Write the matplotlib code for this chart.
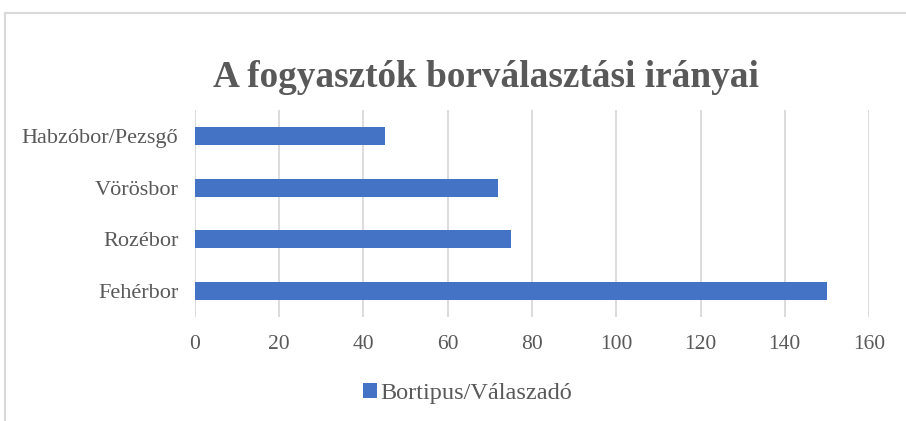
import matplotlib.pyplot as plt
from matplotlib.lines import Line2D

categories = ["Fehérbor", "Rozébor", "Vörösbor", "Habzóbor/Pezsgő"]
values = [150, 75, 72, 45]
xticks = [0, 20, 40, 60, 80, 100, 120, 140, 160]
series_name = "Bortipus/Válaszadó"
title = "A fogyasztók borválasztási irányai"

plt.rcParams["font.family"] = ["Liberation Serif", "DejaVu Serif"]
TXT = "#595959"
GRID = "#d9d9d9"
BAR = "#4472c4"

fig = plt.figure(figsize=(9.06, 4.21), dpi=100)
ax = fig.add_axes([0.2152, 0.247, 0.744, 0.4917])

ax.barh(range(len(categories)), values, height=0.35, color=BAR, label=series_name, zorder=3)
ax.set_xlim(0, 160)
ax.set_ylim(-0.5, len(categories) - 0.5)
ax.set_xticks(xticks)
ax.set_yticks(range(len(categories)))
ax.set_yticklabels(categories)
ax.grid(axis="x", color=GRID, linewidth=1.3, zorder=0)
for s in ax.spines.values():
    s.set_visible(False)
ax.tick_params(length=0, colors=TXT)
ax.tick_params(axis="x", pad=13, labelsize=15.5)
ax.tick_params(axis="y", pad=12, labelsize=16)

fig.text(0.536, 0.815, title, ha="center", va="center", fontsize=26.8,
         fontweight="bold", color=TXT)

handles, labels = ax.get_legend_handles_labels()
fig.legend(handles, labels, loc="center", bbox_to_anchor=(0.516, 0.066), frameon=False,
           fontsize=17.5, labelcolor=TXT, handlelength=0.6, handleheight=0.6,
           handletextpad=0.15)

# chart area border (top and left visible)
fig.add_artist(Line2D([0.0055, 1.0], [0.969, 0.969], color=GRID, linewidth=1.5,
                      transform=fig.transFigure))
fig.add_artist(Line2D([0.0055, 0.0055], [0.0, 0.969], color=GRID, linewidth=1.5,
                      transform=fig.transFigure))

fig.savefig("out.png", dpi=100)
